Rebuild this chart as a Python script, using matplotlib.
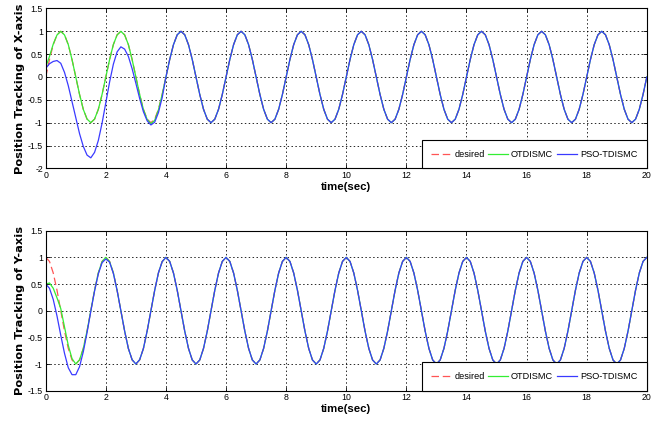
import matplotlib

matplotlib.use("Agg")
import matplotlib.pyplot as plt
import numpy as np

# sample times (s), one reading every 0.125 s
TIME = np.linspace(0.0, 20.0, 161)

# desired x trajectory (one line per 2 s period)
DESIRED_X = [
    0.0, 0.383, 0.707, 0.924, 1.0, 0.924, 0.707, 0.383, 0.0, -0.383, -0.707, -0.924, -1.0, -0.924, -0.707, -0.383,
    0.0, 0.383, 0.707, 0.924, 1.0, 0.924, 0.707, 0.383, 0.0, -0.383, -0.707, -0.924, -1.0, -0.924, -0.707, -0.383,
    0.0, 0.383, 0.707, 0.924, 1.0, 0.924, 0.707, 0.383, 0.0, -0.383, -0.707, -0.924, -1.0, -0.924, -0.707, -0.383,
    0.0, 0.383, 0.707, 0.924, 1.0, 0.924, 0.707, 0.383, 0.0, -0.383, -0.707, -0.924, -1.0, -0.924, -0.707, -0.383,
    0.0, 0.383, 0.707, 0.924, 1.0, 0.924, 0.707, 0.383, 0.0, -0.383, -0.707, -0.924, -1.0, -0.924, -0.707, -0.383,
    0.0, 0.383, 0.707, 0.924, 1.0, 0.924, 0.707, 0.383, 0.0, -0.383, -0.707, -0.924, -1.0, -0.924, -0.707, -0.383,
    0.0, 0.383, 0.707, 0.924, 1.0, 0.924, 0.707, 0.383, 0.0, -0.383, -0.707, -0.924, -1.0, -0.924, -0.707, -0.383,
    0.0, 0.383, 0.707, 0.924, 1.0, 0.924, 0.707, 0.383, 0.0, -0.383, -0.707, -0.924, -1.0, -0.924, -0.707, -0.383,
    0.0, 0.383, 0.707, 0.924, 1.0, 0.924, 0.707, 0.383, 0.0, -0.383, -0.707, -0.924, -1.0, -0.924, -0.707, -0.383,
    0.0, 0.383, 0.707, 0.924, 1.0, 0.924, 0.707, 0.383, 0.0, -0.383, -0.707, -0.924, -1.0, -0.924, -0.707, -0.383,
    0.0,
]

# desired y trajectory
DESIRED_Y = [
    1.0, 0.924, 0.707, 0.383, 0.0, -0.383, -0.707, -0.924, -1.0, -0.924, -0.707, -0.383, 0.0, 0.383, 0.707, 0.924,
    1.0, 0.924, 0.707, 0.383, 0.0, -0.383, -0.707, -0.924, -1.0, -0.924, -0.707, -0.383, 0.0, 0.383, 0.707, 0.924,
    1.0, 0.924, 0.707, 0.383, 0.0, -0.383, -0.707, -0.924, -1.0, -0.924, -0.707, -0.383, 0.0, 0.383, 0.707, 0.924,
    1.0, 0.924, 0.707, 0.383, 0.0, -0.383, -0.707, -0.924, -1.0, -0.924, -0.707, -0.383, 0.0, 0.383, 0.707, 0.924,
    1.0, 0.924, 0.707, 0.383, 0.0, -0.383, -0.707, -0.924, -1.0, -0.924, -0.707, -0.383, 0.0, 0.383, 0.707, 0.924,
    1.0, 0.924, 0.707, 0.383, 0.0, -0.383, -0.707, -0.924, -1.0, -0.924, -0.707, -0.383, 0.0, 0.383, 0.707, 0.924,
    1.0, 0.924, 0.707, 0.383, 0.0, -0.383, -0.707, -0.924, -1.0, -0.924, -0.707, -0.383, 0.0, 0.383, 0.707, 0.924,
    1.0, 0.924, 0.707, 0.383, 0.0, -0.383, -0.707, -0.924, -1.0, -0.924, -0.707, -0.383, 0.0, 0.383, 0.707, 0.924,
    1.0, 0.924, 0.707, 0.383, 0.0, -0.383, -0.707, -0.924, -1.0, -0.924, -0.707, -0.383, 0.0, 0.383, 0.707, 0.924,
    1.0, 0.924, 0.707, 0.383, 0.0, -0.383, -0.707, -0.924, -1.0, -0.924, -0.707, -0.383, 0.0, 0.383, 0.707, 0.924,
    1.0,
]

# first 4 s of each controller response (after that they sit on the desired curve)
OTDISMC_X_START = [
    0.22, 0.45, 0.72, 0.92, 1.0, 0.92, 0.71, 0.38, 0.0, -0.38, -0.71, -0.92, -1.0, -0.92, -0.71, -0.38,
    0.0, 0.38, 0.71, 0.92, 1.0, 0.92, 0.71, 0.38, 0.0, -0.38, -0.71, -0.93, -1.02, -0.95, -0.72, -0.38,
]
PSO_X_START = [
    0.19, 0.29, 0.34, 0.36, 0.30, 0.10, -0.19, -0.54, -0.90, -1.24, -1.52, -1.71, -1.77, -1.65, -1.39, -1.01,
    -0.56, -0.11, 0.28, 0.55, 0.66, 0.61, 0.45, 0.18, -0.14, -0.47, -0.76, -0.96, -1.05, -0.99, -0.78, -0.45,
]
OTDISMC_Y_START = [
    0.50, 0.52, 0.42, 0.24, 0.04, -0.31, -0.65, -0.90, -1.0, -0.92, -0.71, -0.38, 0.0, 0.38, 0.71, 0.92,
    1.0, 0.92, 0.71, 0.38, 0.0, -0.38, -0.71, -0.92, -1.0, -0.92, -0.71, -0.38, 0.0, 0.38, 0.71, 0.92,
]
PSO_Y_START = [
    0.50, 0.42, 0.21, -0.10, -0.46, -0.80, -1.07, -1.20, -1.20, -1.05, -0.77, -0.41, -0.01, 0.37, 0.69, 0.90,
    0.97, 0.91, 0.70, 0.38, 0.0, -0.38, -0.71, -0.92, -1.0, -0.92, -0.71, -0.38, 0.0, 0.38, 0.71, 0.92,
]

SERIES_NAMES = ["desired", "OTDISMC", "PSO-TDISMC"]
X_TICKS = [0, 2, 4, 6, 8, 10, 12, 14, 16, 18, 20]
X_TICK_LABELS = ["0", "2", "4", "6", "8", "10", "12", "14", "16", "18", "20"]
Y_TICKS_TOP = [-2, -1.5, -1, -0.5, 0, 0.5, 1, 1.5]
Y_TICK_LABELS_TOP = ["-2", "-1.5", "-1", "-0.5", "0", "0.5", "1", "1.5"]
Y_TICKS_BOTTOM = [-1.5, -1, -0.5, 0, 0.5, 1, 1.5]
Y_TICK_LABELS_BOTTOM = ["-1.5", "-1", "-0.5", "0", "0.5", "1", "1.5"]

NARROW = ["Liberation Sans Narrow", "Liberation Sans", "DejaVu Sans"]
COLORS = ["#ff5555", "#33ee33", "#3a3aff"]


def _full_series(start, desired):
    return list(start) + list(desired[len(start):])


def _draw_panel(ax, desired, otdismc, pso, yticks, ylabels, ylabel):
    ax.plot(TIME, desired, color=COLORS[0], linestyle=(0, (6, 3)), linewidth=0.9, label=SERIES_NAMES[0])
    ax.plot(TIME, otdismc, color=COLORS[1], linewidth=0.9, label=SERIES_NAMES[1])
    ax.plot(TIME, pso, color=COLORS[2], linewidth=0.9, label=SERIES_NAMES[2])

    ax.set_xlim(0, 20)
    ax.set_ylim(yticks[0], yticks[-1])
    ax.set_xticks(X_TICKS)
    ax.set_xticklabels(X_TICK_LABELS, family=NARROW, fontsize=6.3)
    ax.set_yticks(yticks)
    ax.set_yticklabels(ylabels, family=NARROW, fontsize=6.3)
    ax.tick_params(direction="in", length=3, width=0.6, top=True, right=True, pad=2)
    ax.grid(True, color="k", linestyle=(0, (1.5, 2.5)), linewidth=0.7, alpha=0.85)
    for spine in ax.spines.values():
        spine.set_linewidth(0.8)

    ax.set_xlabel("time(sec)", family=NARROW, fontsize=8.2, fontweight="bold", labelpad=1)
    ax.set_ylabel(ylabel, family="DejaVu Sans", fontsize=8.2, fontweight="bold", labelpad=2)

    leg = ax.legend(
        loc="lower right",
        ncol=3,
        borderaxespad=0,
        fancybox=False,
        framealpha=1,
        edgecolor="k",
        prop={"family": NARROW, "size": 6.6},
        handlelength=2.2,
        handletextpad=0.3,
        columnspacing=0.4,
        borderpad=1.05,
    )
    leg.get_frame().set_linewidth(0.8)


fig = plt.figure(figsize=(6.58, 4.23), dpi=100)
ax_top = fig.add_axes([0.0695, 0.602, 0.9135, 0.378])
ax_bottom = fig.add_axes([0.0695, 0.0764, 0.9135, 0.3782])

_draw_panel(
    ax_top,
    DESIRED_X,
    _full_series(OTDISMC_X_START, DESIRED_X),
    _full_series(PSO_X_START, DESIRED_X),
    Y_TICKS_TOP,
    Y_TICK_LABELS_TOP,
    "Position Tracking of X-axis",
)
_draw_panel(
    ax_bottom,
    DESIRED_Y,
    _full_series(OTDISMC_Y_START, DESIRED_Y),
    _full_series(PSO_Y_START, DESIRED_Y),
    Y_TICKS_BOTTOM,
    Y_TICK_LABELS_BOTTOM,
    "Position Tracking of Y-axis",
)

fig.savefig("out.png", dpi=100)
plt.close(fig)
